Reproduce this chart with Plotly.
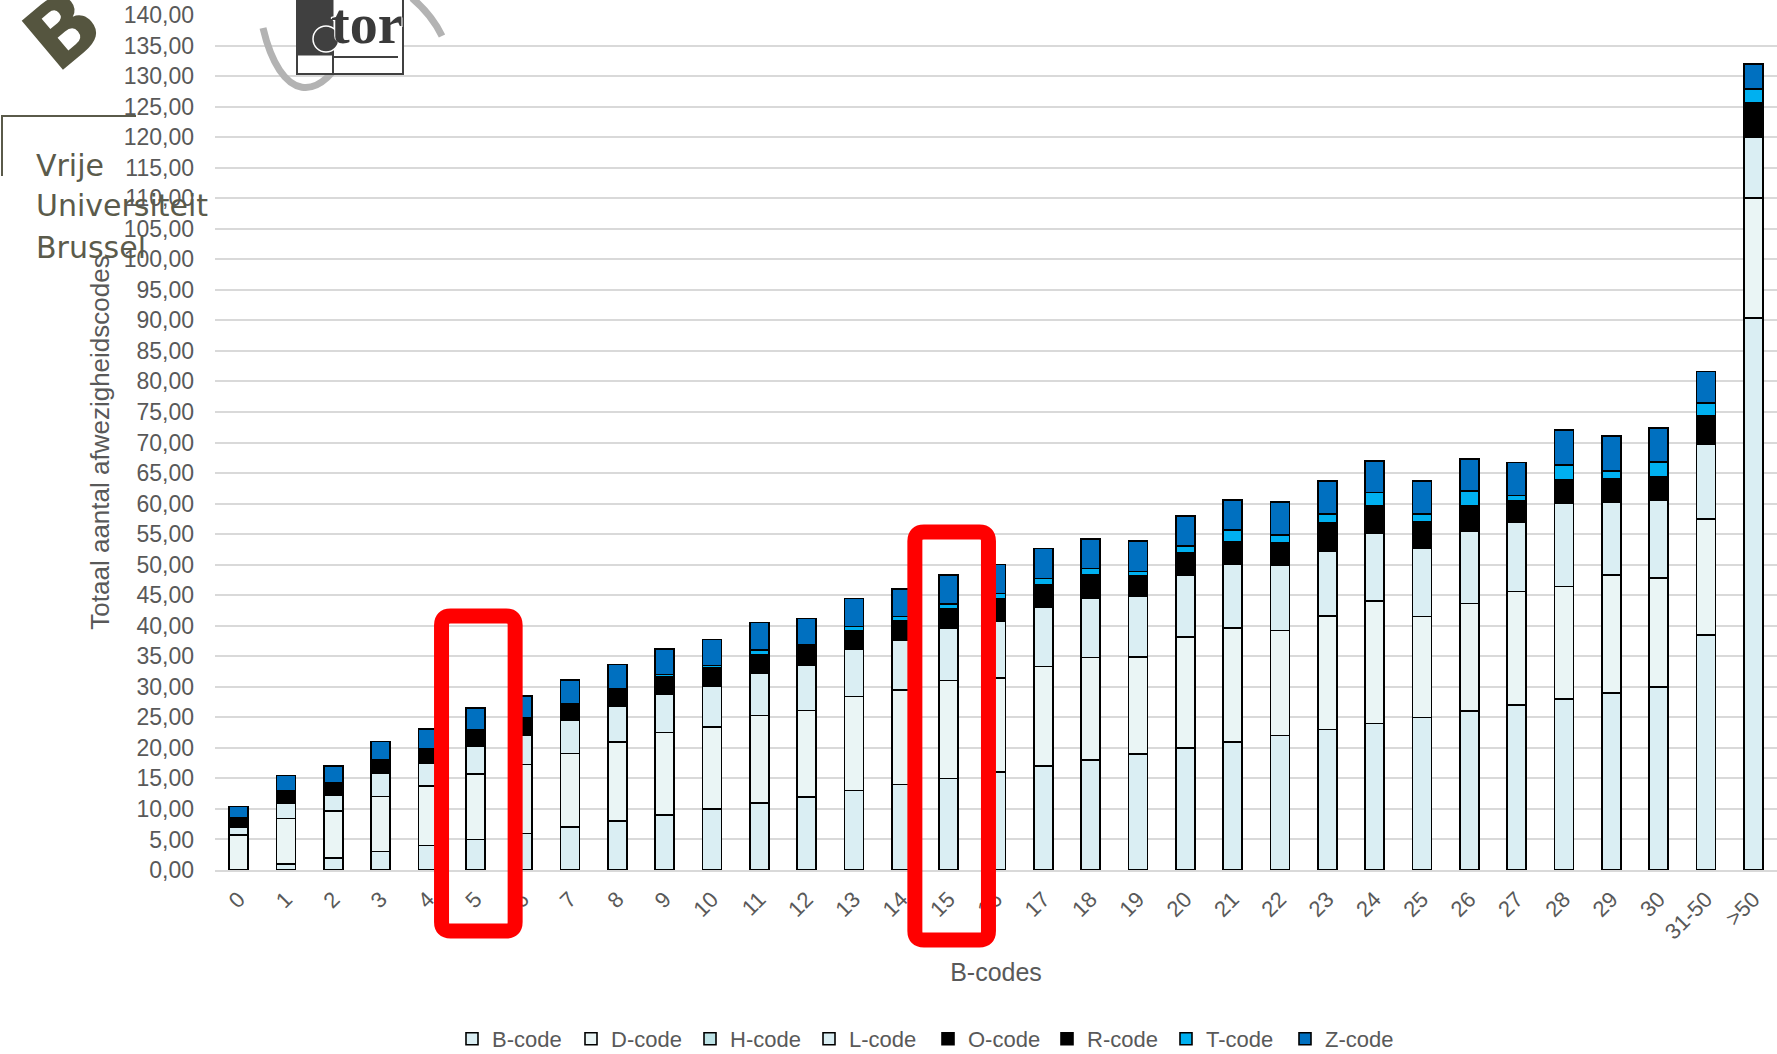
import plotly.graph_objects as go

categories = [str(i) for i in range(31)] + ["31-50", ">50"]

b_code = [0, 1, 2, 3, 4, 5, 6, 7, 8, 9, 10, 11, 12, 13, 14, 15, 16, 17, 18, 19, 20,
          21, 22, 23, 24, 25, 26, 27, 28, 29, 30, 38.5, 90.35]
d_code = [5.7, 7.46, 7.7, 9.06, 9.8, 10.7, 11.3, 12.1, 13.0, 13.5, 13.4, 14.3, 14.1, 15.4,
          15.45, 16.0, 15.4, 16.3, 16.8, 15.9, 18.2, 18.6, 17.2, 18.6, 20.0, 16.5, 17.65,
          18.6, 18.4, 19.3, 17.8, 19.0, 19.65]
h_code = [0, 0, 0, 0, 0, 0, 0, 0, 0, 0, 0, 0, 0, 0, 0, 0, 0, 0, 0, 0, 0,
          0, 0, 0, 0, 0, 0, 0, 0, 0, 0, 0, 0]
l_code = [1.35, 2.54, 2.6, 3.74, 3.7, 4.65, 4.8, 5.35, 5.85, 6.3, 6.65, 7.0, 7.4, 7.8,
          8.25, 8.55, 9.35, 9.7, 9.75, 10.0, 10.0, 10.5, 10.65, 10.65, 11.2, 11.15, 11.85,
          11.3, 13.6, 12.0, 12.7, 12.15, 10.0]
o_code = [0.3, 0.3, 0.3, 0.3, 0.3, 0.3, 0.3, 0.3, 0.3, 0.3, 0.3, 0.3, 0.3, 0.3, 0.3, 0.3,
          0.4, 0.4, 0.4, 0.3, 0.4, 0.4, 0.4, 0.5, 0.5, 0.4, 0.4, 0.3, 0.4, 0.4, 0.4, 0.5, 0.6]
r_code = [1.25, 1.7, 1.65, 1.9, 2.1, 2.25, 2.3, 2.2, 2.35, 2.55, 2.7, 2.6, 2.7, 2.7, 2.75,
          2.95, 3.3, 3.35, 3.35, 3.0, 3.3, 3.3, 3.35, 4.05, 3.9, 4.0, 3.8, 3.3, 3.5, 3.4,
          3.5, 4.15, 5.0]
t_code = [0, 0, 0, 0, 0, 0.1, 0.2, 0.25, 0.25, 0.35, 0.45, 0.8, 0.3, 0.7, 0.75, 0.8, 0.85,
          0.95, 1.05, 0.7, 1.2, 1.9, 1.3, 1.45, 2.2, 1.25, 2.4, 0.85, 2.4, 1.25, 2.4, 2.2, 2.3]
z_code = [1.8, 2.5, 2.75, 3.05, 3.2, 3.5, 3.6, 3.9, 3.9, 4.2, 4.25, 4.5, 4.4, 4.55, 4.5,
          4.7, 4.7, 4.95, 4.85, 4.95, 4.9, 4.9, 5.4, 5.45, 5.2, 5.4, 5.2, 5.35, 5.75, 5.75,
          5.6, 5.1, 4.1]

series = [
    ("B-code", b_code, "#DAEEF3"),
    ("D-code", d_code, "#EAF5F5"),
    ("H-code", h_code, "#BDE3E6"),
    ("L-code", l_code, "#DAEEF3"),
    ("O-code", o_code, "#000000"),
    ("R-code", r_code, "#000000"),
    ("T-code", t_code, "#00B0F0"),
    ("Z-code", z_code, "#0070C0"),
]

highlighted = ["5", "15"]

W, H = 1777, 1054
PL, PR, PT, PB = 215, 1777, 15, 870

def px(X):
    return (X - PL) / (PR - PL)

def py(Y):
    return (PB - Y) / (PB - PT)

fig = go.Figure()
for name, vals, col in series:
    fig.add_trace(go.Bar(
        name=name, x=categories, y=vals,
        marker=dict(color=col, line=dict(color="#000000", width=1.6)),
    ))

font_main = "Liberation Sans, Arial, sans-serif"
grey = "#595959"

fig.update_layout(
    width=W, height=H,
    barmode="stack", bargap=0.6,
    plot_bgcolor="white", paper_bgcolor="white",
    margin=dict(l=PL, r=W - PR, t=PT, b=H - PB, autoexpand=False),
    separators=",.",
    font=dict(family=font_main, color=grey, size=22),
    showlegend=True,
    legend=dict(orientation="h", x=px(452), y=py(1039), xanchor="left", yanchor="middle",
                traceorder="normal", font=dict(size=22, color=grey),
                itemwidth=30, entrywidth=74, entrywidthmode="pixels",
                bgcolor="rgba(0,0,0,0)", borderwidth=0),
    xaxis=dict(type="category", tickangle=-45, tickfont=dict(size=22, color=grey),
               automargin=False,
               showgrid=False, showline=True, linecolor="#d9d9d9", linewidth=1.5,
               ticks="", ticklabelstandoff=6,
               title=dict(text="B-codes", font=dict(size=25, color=grey), standoff=20)),
    yaxis=dict(range=[0, 140], dtick=5, tickformat=".2f", automargin=False,
               tickfont=dict(size=23, color=grey),
               showgrid=True, gridcolor="#d9d9d9", gridwidth=1.5,
               zeroline=False, showline=False, ticks="", ticklabelstandoff=20,
               title=dict(text="Totaal aantal afwezigheidscodes",
                          font=dict(size=26, color=grey), standoff=6)),
)

# red highlight boxes around selected categories
n = len(categories)
def rounded_rect(x0, x1, y0, y1, rpx=9):
    rx = rpx / (PR - PL)
    ry = rpx / (PB - PT)
    return (f"M {x0+rx},{y1} L {x1-rx},{y1} Q {x1},{y1} {x1},{y1-ry} "
            f"L {x1},{y0+ry} Q {x1},{y0} {x1-rx},{y0} L {x0+rx},{y0} "
            f"Q {x0},{y0} {x0},{y0+ry} L {x0},{y1-ry} Q {x0},{y1} {x0+rx},{y1} Z")

box_tops = {"5": py(616), "15": py(532)}
box_bottoms = {"5": py(931), "15": py(940)}
half = 36.8 / (PR - PL)
for cat in highlighted:
    i = categories.index(cat)
    xc = (i + 0.5) / n + 3 / (PR - PL)
    fig.add_shape(type="path", xref="paper", yref="paper",
                  path=rounded_rect(xc - half, xc + half, box_bottoms[cat], box_tops[cat]),
                  line=dict(color="#FF0000", width=15), layer="above")

# ---- logos (approximation) ----
olive = "#55553F"
fig.add_annotation(text="<b>B</b>", xref="paper", yref="paper", x=px(62), y=py(30),
                   xanchor="center", yanchor="middle",
                   showarrow=False, textangle=-40,
                   font=dict(family="DejaVu Sans", size=88, color=olive))
fig.add_shape(type="path", xref="paper", yref="paper",
              path=f"M {px(2)},{py(176)} L {px(2)},{py(116)} L {px(136)},{py(116)}",
              line=dict(color="#5a5a4a", width=2))
for txt, yy in [("Vrije", 166), ("Universiteit", 206), ("Brussel", 247)]:
    fig.add_annotation(text=txt, xref="paper", yref="paper", x=px(34), y=py(yy),
                       xanchor="left", yanchor="middle", showarrow=False,
                       font=dict(family="DejaVu Sans", size=30, color="#5b5b4b"))

# tor logo
arc = (f"M {px(263)},{py(28)} C {px(280)},{py(100)} {px(320)},{py(110)} {px(352)},{py(40)} ")
fig.add_shape(type="path", xref="paper", yref="paper", path=arc,
              line=dict(color="#b3b3b3", width=7))
fig.add_shape(type="path", xref="paper", yref="paper",
              path=f"M {px(412)},{py(-2)} Q {px(432)},{py(15)} {px(442)},{py(36)}",
              line=dict(color="#b3b3b3", width=7))
fig.add_shape(type="rect", xref="paper", yref="paper",
              x0=px(297), x1=px(403), y0=py(74), y1=py(-2),
              line=dict(color="#404040", width=2), fillcolor="white")
fig.add_shape(type="rect", xref="paper", yref="paper",
              x0=px(297), x1=px(333), y0=py(55), y1=py(-2),
              line=dict(color="#404040", width=1), fillcolor="#404040")
fig.add_shape(type="line", xref="paper", yref="paper",
              x0=px(333), x1=px(333), y0=py(74), y1=py(40),
              line=dict(color="#404040", width=2))
fig.add_shape(type="line", xref="paper", yref="paper",
              x0=px(333), x1=px(398), y0=py(57), y1=py(57),
              line=dict(color="#404040", width=2))
fig.add_shape(type="circle", xref="paper", yref="paper",
              x0=px(313), x1=px(339), y0=py(52), y1=py(26),
              line=dict(color="white", width=1.5), fillcolor="#404040")
fig.add_annotation(text="<b>tor</b>", xref="paper", yref="paper", x=px(367), y=py(24),
                   xanchor="center", yanchor="middle", showarrow=False,
                   font=dict(family="Liberation Serif", size=56, color="#3a3a3a",
                             shadow="1px 1px 0 #ffffff, -1px -1px 0 #ffffff"))

fig.write_html("out.html", config={"displayModeBar": False},
               post_script="document.body.style.margin='0';document.body.style.overflow='hidden';")
